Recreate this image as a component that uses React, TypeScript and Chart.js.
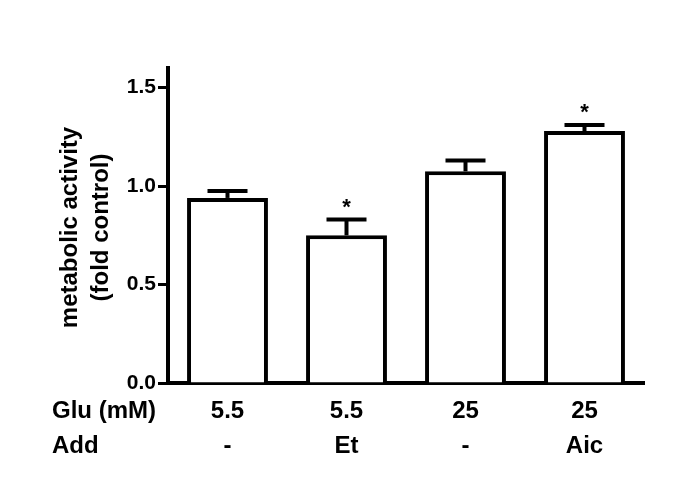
import React, { useEffect, useRef } from "react";
import { Chart, registerables } from "chart.js";

Chart.register(...registerables);

const gluLabels = ["5.5", "5.5", "25", "25"];
const addLabels = ["-", "Et", "-", "Aic"];
const rowHeaders = ["Glu (mM)", "Add"];
const values = [0.94, 0.75, 1.075, 1.28];
const errors = [0.035, 0.08, 0.055, 0.03];
const significance = ["", "*", "", "*"];
const yTicks = [0, 0.5, 1.0, 1.5];
const yTitleLines = ["metabolic activity", "(fold control)"];

const FONT = "'Liberation Sans', Arial, Helvetica, sans-serif";

const overlayPlugin = {
  id: "overlay",
  afterDatasetsDraw(chart: any) {
    const ctx = chart.ctx;
    const meta = chart.getDatasetMeta(0);
    const y = chart.scales.y;
    ctx.save();
    ctx.strokeStyle = "#000";
    ctx.fillStyle = "#000";
    ctx.lineWidth = 4;
    ctx.lineCap = "butt";
    meta.data.forEach((bar: any, i: number) => {
      const x = bar.x;
      const top = y.getPixelForValue(values[i]);
      const capY = y.getPixelForValue(values[i] + errors[i]);
      ctx.beginPath();
      ctx.moveTo(x, top);
      ctx.lineTo(x, capY);
      ctx.stroke();
      ctx.beginPath();
      ctx.moveTo(x - 20, capY);
      ctx.lineTo(x + 20, capY);
      ctx.stroke();
      if (significance[i]) {
        ctx.font = `bold 22px ${FONT}`;
        ctx.textAlign = "center";
        ctx.textBaseline = "alphabetic";
        ctx.fillText(significance[i], x, capY - 6);
      }
    });
    ctx.restore();
  },
  afterDraw(chart: any) {
    const ctx = chart.ctx;
    const area = chart.chartArea;
    ctx.save();
    ctx.fillStyle = "#000";
    ctx.font = `bold 24px ${FONT}`;
    ctx.textAlign = "left";
    ctx.textBaseline = "middle";
    rowHeaders.forEach((t, i) => {
      ctx.fillText(t, 52, area.bottom + 28 + i * 35);
    });
    const cy = (area.top + area.bottom) / 2 + 2;
    ctx.font = `bold 24px ${FONT}`;
    ctx.textAlign = "center";
    ctx.textBaseline = "middle";
    yTitleLines.forEach((t, i) => {
      ctx.save();
      ctx.translate(70 + i * 31, cy);
      ctx.rotate(-Math.PI / 2);
      ctx.fillText(t, 0, 0);
      ctx.restore();
    });
    ctx.restore();
  },
};

export default function App() {
  const ref = useRef<HTMLCanvasElement>(null);
  useEffect(() => {
    if (!ref.current) return;
    const chart = new Chart(ref.current, {
      type: "bar",
      data: {
        labels: gluLabels.map((g, i) => [g, addLabels[i]]),
        datasets: [
          {
            data: values,
            backgroundColor: "#fff",
            borderColor: "#000",
            borderWidth: 4,
            barPercentage: 0.68,
            categoryPercentage: 1,
          },
        ],
      },
      options: {
        responsive: false,
        animation: false,
        devicePixelRatio: 1,
        layout: { padding: { top: 68, right: 41, left: 0, bottom: 0 } },
        plugins: {
          legend: { display: false },
          tooltip: { enabled: false },
          title: { display: false },
        },
        scales: {
          x: {
            grid: { display: false, drawTicks: false },
            border: { display: true, color: "#000", width: 4 },
            ticks: {
              color: "#000",
              font: { family: FONT, size: 24, weight: "bold", lineHeight: 35 / 24 },
              padding: 10.5,
              maxRotation: 0,
              autoSkip: false,
            },
            afterFit: (s: any) => {
              s.height = 110;
            },
          },
          y: {
            min: 0,
            max: 1.6,
            afterBuildTicks: (s: any) => {
              s.ticks = yTicks.map((v) => ({ value: v }));
            },
            grid: {
              display: true,
              drawOnChartArea: false,
              drawTicks: true,
              tickLength: 10,
              tickColor: "#000",
              tickWidth: 3,
            },
            border: { display: true, color: "#000", width: 4 },
            ticks: {
              color: "#000",
              font: { family: FONT, size: 21, weight: "bold" },
              padding: 2,
              callback: (v: any) => Number(v).toFixed(1),
            },
            afterFit: (s: any) => {
              s.width = 168;
            },
          },
        },
      },
      plugins: [overlayPlugin],
    } as any);
    return () => chart.destroy();
  }, []);
  return (
    <div style={{ position: "fixed", left: 0, top: 0, width: 685, height: 493, background: "#fff" }}>
      <canvas ref={ref} width={685} height={493} />
    </div>
  );
}
